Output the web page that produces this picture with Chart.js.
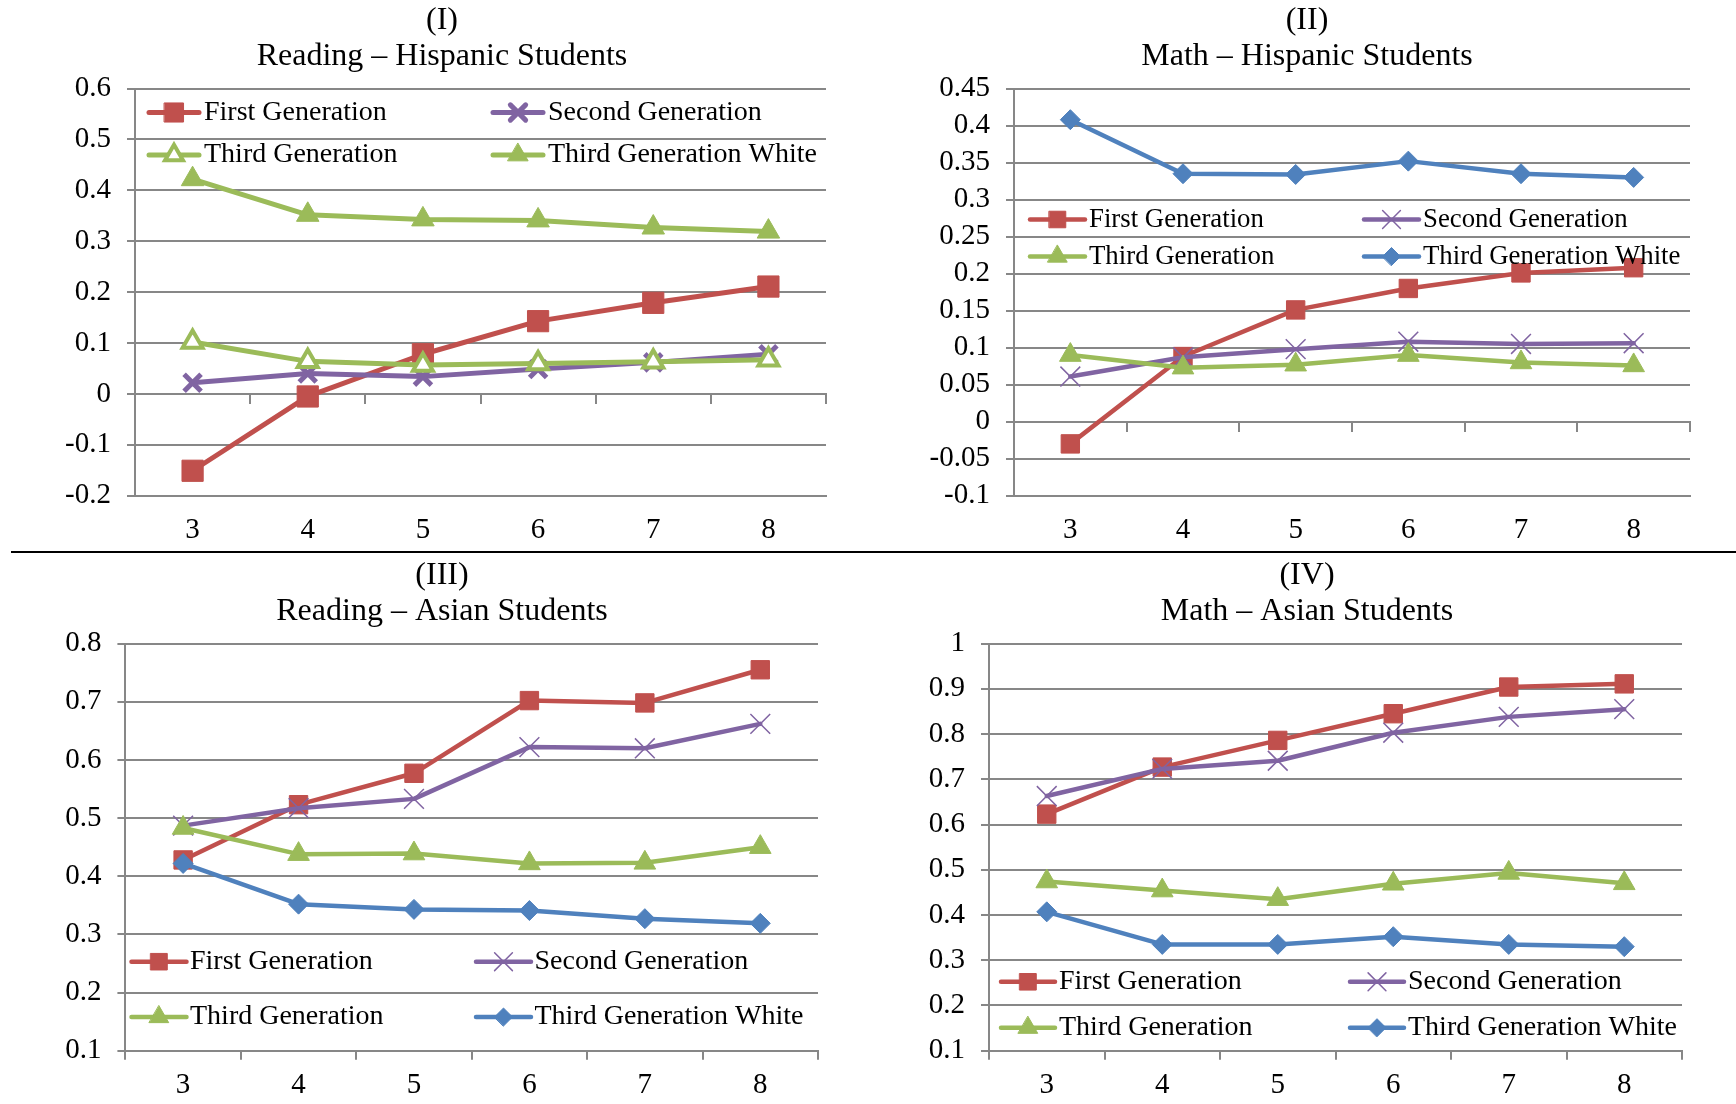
<!DOCTYPE html>
<html><head><meta charset="utf-8">
<script src="https://cdn.jsdelivr.net/npm/chart.js@4.4.1/dist/chart.umd.min.js"></script>
<style>
html,body{margin:0;padding:0;background:#fff;width:1736px;height:1104px;overflow:hidden;}
.panel{position:absolute;}
.panel canvas{display:block;}
#sep{position:absolute;left:11px;top:551px;width:1725px;height:2px;background:#000;}
</style></head><body>
<div class="panel" style="left:0;top:0;width:868px;height:552px"><canvas id="c1" width="868" height="552"></canvas></div>
<div class="panel" style="left:868px;top:0;width:868px;height:552px"><canvas id="c2" width="868" height="552"></canvas></div>
<div class="panel" style="left:0;top:552px;width:868px;height:552px"><canvas id="c3" width="868" height="552"></canvas></div>
<div class="panel" style="left:868px;top:552px;width:868px;height:552px"><canvas id="c4" width="868" height="552"></canvas></div>
<div id="sep"></div>
<script>
// ---------- DATA ----------
const grades = ['3', '4', '5', '6', '7', '8'];
const seriesNames = ['First Generation', 'Second Generation', 'Third Generation', 'Third Generation White'];

// (I) Reading – Hispanic Students
const readHispFirst  = [-0.151, -0.005, 0.078, 0.143, 0.179, 0.211];
const readHispSecond = [0.022, 0.040, 0.034, 0.049, 0.062, 0.078];
const readHispThird  = [0.102, 0.064, 0.057, 0.060, 0.063, 0.067];
const readHispWhite  = [0.422, 0.352, 0.343, 0.341, 0.327, 0.319];
const yTicksI  = [-0.2, -0.1, 0, 0.1, 0.2, 0.3, 0.4, 0.5, 0.6];
const yLabelsI = ['-0.2', '-0.1', '0', '0.1', '0.2', '0.3', '0.4', '0.5', '0.6'];

// (II) Math – Hispanic Students
const mathHispFirst  = [-0.030, 0.088, 0.151, 0.180, 0.201, 0.208];
const mathHispSecond = [0.061, 0.087, 0.098, 0.108, 0.105, 0.106];
const mathHispThird  = [0.090, 0.073, 0.077, 0.090, 0.080, 0.076];
const mathHispWhite  = [0.408, 0.335, 0.334, 0.352, 0.335, 0.330];
const yTicksII  = [-0.1, -0.05, 0, 0.05, 0.1, 0.15, 0.2, 0.25, 0.3, 0.35, 0.4, 0.45];
const yLabelsII = ['-0.1', '-0.05', '0', '0.05', '0.1', '0.15', '0.2', '0.25', '0.3', '0.35', '0.4', '0.45'];

// (III) Reading – Asian Students
const readAsianFirst  = [0.428, 0.523, 0.577, 0.702, 0.698, 0.755];
const readAsianSecond = [0.487, 0.517, 0.533, 0.622, 0.620, 0.662];
const readAsianThird  = [0.483, 0.438, 0.439, 0.422, 0.423, 0.450];
const readAsianWhite  = [0.422, 0.352, 0.343, 0.341, 0.327, 0.319];
const yTicksIII  = [0.1, 0.2, 0.3, 0.4, 0.5, 0.6, 0.7, 0.8];
const yLabelsIII = ['0.1', '0.2', '0.3', '0.4', '0.5', '0.6', '0.7', '0.8'];

// (IV) Math – Asian Students
const mathAsianFirst  = [0.623, 0.727, 0.786, 0.845, 0.904, 0.911];
const mathAsianSecond = [0.663, 0.723, 0.741, 0.803, 0.838, 0.855];
const mathAsianThird  = [0.474, 0.454, 0.435, 0.469, 0.493, 0.470];
const mathAsianWhite  = [0.407, 0.335, 0.335, 0.352, 0.335, 0.330];
const yTicksIV  = [0.1, 0.2, 0.3, 0.4, 0.5, 0.6, 0.7, 0.8, 0.9, 1];
const yLabelsIV = ['0.1', '0.2', '0.3', '0.4', '0.5', '0.6', '0.7', '0.8', '0.9', '1'];

// ---------- STYLES ----------
const FONT = '"Liberation Serif", "Times New Roman", serif';
const GRID = '#878787';
const RED = '#C0504D', PURPLE = '#8064A2', GREEN = '#9BBB59', BLUE = '#4F81BD';

const stylesI = [
  {color: RED,    point: 'rect',     r: 15, fill: RED,     bw: 1, lw: 5},
  {color: PURPLE, point: 'crossRot', r: 12, fill: PURPLE,  bw: 5, lw: 5},
  {color: GREEN,  point: 'triangle', r: 11.5, fill: '#FFFFFF', bw: 4, lw: 5},
  {color: GREEN,  point: 'triangle', r: 13, fill: GREEN,   bw: 1, lw: 5}
];
const stylesOther = [
  {color: RED,    point: 'rect',     r: 13,   fill: RED,    bw: 1,   lw: 4.5},
  {color: PURPLE, point: 'crossRot', r: 14,   fill: PURPLE, bw: 1.5, lw: 4.5},
  {color: GREEN,  point: 'triangle', r: 12.5, fill: GREEN,  bw: 1,   lw: 4.5},
  {color: BLUE,   point: 'rectRot',  r: 10,   fill: BLUE,   bw: 1,   lw: 4.5}
];

function drawMarker(ctx, style, x, y, r, fill, stroke, bw) {
  ctx.save();
  ctx.beginPath();
  if (style === 'rect') {
    const s = Math.SQRT1_2 * r;
    ctx.rect(x - s, y - s, 2 * s, 2 * s);
  } else if (style === 'rectRot') {
    ctx.moveTo(x - r, y); ctx.lineTo(x, y - r); ctx.lineTo(x + r, y); ctx.lineTo(x, y + r); ctx.closePath();
  } else if (style === 'triangle') {
    ctx.moveTo(x, y - r); ctx.lineTo(x + 0.866 * r, y + 0.5 * r); ctx.lineTo(x - 0.866 * r, y + 0.5 * r); ctx.closePath();
  } else if (style === 'crossRot') {
    const d = Math.SQRT1_2 * r;
    ctx.moveTo(x - d, y - d); ctx.lineTo(x + d, y + d);
    ctx.moveTo(x + d, y - d); ctx.lineTo(x - d, y + d);
  }
  if (style !== 'crossRot') { ctx.fillStyle = fill; ctx.fill(); }
  ctx.lineWidth = bw; ctx.strokeStyle = stroke; ctx.stroke();
  ctx.restore();
}

// Legend drawn inside the plot area, in two columns
const insideLegend = {
  id: 'insideLegend',
  afterDatasetsDraw(chart, args, opts) {
    const ctx = chart.ctx;
    ctx.save();
    chart.data.datasets.forEach((ds, i) => {
      const s = opts.styles[i];
      const x = opts.cols[i % 2];
      const y = opts.rows[Math.floor(i / 2)];
      ctx.beginPath();
      ctx.lineCap = 'round';
      ctx.strokeStyle = s.color;
      ctx.lineWidth = s.lw;
      ctx.moveTo(x, y); ctx.lineTo(x + opts.len, y);
      ctx.stroke();
      drawMarker(ctx, s.point, x + opts.len / 2, y, s.r * 0.9, s.fill, s.color, s.bw);
      ctx.fillStyle = '#000';
      ctx.font = opts.size + 'px ' + FONT;
      ctx.textBaseline = 'middle';
      ctx.textAlign = 'left';
      ctx.fillText(ds.label, x + opts.len + opts.gap, y);
    });
    ctx.restore();
  }
};

// Two-line panel title centred at a given x
const panelTitle = {
  id: 'panelTitle',
  afterDraw(chart, args, opts) {
    const ctx = chart.ctx;
    ctx.save();
    ctx.fillStyle = '#000';
    ctx.font = opts.size + 'px ' + FONT;
    ctx.textAlign = 'center';
    ctx.textBaseline = 'middle';
    opts.lines.forEach((t, i) => ctx.fillText(t, opts.x, opts.ys[i]));
    ctx.restore();
  }
};

function makePanel(id, p) {
  const datasets = p.series.map((vals, i) => {
    const s = p.styles[i];
    return {
      label: seriesNames[i], data: vals,
      borderColor: s.color, backgroundColor: s.color, borderWidth: s.lw,
      pointStyle: s.point, pointRadius: s.r, pointHoverRadius: s.r,
      pointBackgroundColor: s.fill, pointBorderColor: s.color, pointBorderWidth: s.bw,
      tension: 0, fill: false, order: 3 - i, clip: false,
      borderCapStyle: 'round', borderJoinStyle: 'round'
    };
  });
  const tickFont = {family: FONT, size: 29};
  const scales = {
    x: {
      type: 'category', position: 'bottom', offset: true,
      grid: {display: true, drawOnChartArea: false, drawTicks: true, tickLength: 9, offset: true,
             color: p.bottomTicks ? GRID : 'rgba(0,0,0,0)', lineWidth: 2},
      border: {display: true, color: GRID, width: 2},
      ticks: {color: '#000', font: tickFont, padding: 8, maxRotation: 0, autoSkip: false},
      afterFit: s => { s.height = p.xAxisHeight; }
    },
    y: {
      type: 'linear', position: 'left',
      min: p.yTicks[0], max: p.yTicks[p.yTicks.length - 1],
      afterBuildTicks: s => { s.ticks = p.yTicks.map(v => ({value: v})); },
      grid: {color: GRID, lineWidth: 2, drawTicks: true, tickLength: 8},
      border: {display: true, color: GRID, width: 2},
      ticks: {color: '#000', font: tickFont, padding: 16, autoSkip: false, callback: (v, i) => p.yLabels[i]},
      afterFit: s => { s.width = p.yAxisWidth; }
    }
  };
  if (p.zeroAxis) {
    scales.x2 = {
      type: 'category', axis: 'x', position: {y: 0}, offset: true,
      grid: {display: true, drawOnChartArea: false, drawTicks: true, tickLength: 9, offset: true, color: GRID, lineWidth: 2},
      border: {display: true, color: GRID, width: 2},
      ticks: {display: false}
    };
  }
  return new Chart(document.getElementById(id), {
    type: 'line',
    data: {labels: grades, datasets},
    options: {
      responsive: false, animation: false, events: [],
      layout: {padding: {left: p.padL, right: p.padR, top: p.padT, bottom: 0}},
      scales,
      plugins: {
        legend: {display: false},
        tooltip: {enabled: false},
        title: {display: false},
        panelTitle: p.title,
        insideLegend: p.legend
      }
    },
    plugins: [panelTitle, insideLegend]
  });
}

function build() {
  makePanel('c1', {
    title: {lines: ['(I)', 'Reading – Hispanic Students'], x: 442, ys: [20.5, 56.3], size: 32},
    series: [readHispFirst, readHispSecond, readHispThird, readHispWhite],
    styles: stylesI, yTicks: yTicksI, yLabels: yLabelsI,
    padL: 35, padR: 42, padT: 88.6, yAxisWidth: 100, xAxisHeight: 56.3,
    zeroAxis: true, bottomTicks: false,
    legend: {styles: stylesI, cols: [149, 493], rows: [112.5, 155], len: 50, gap: 5, size: 28}
  });
  makePanel('c2', {
    title: {lines: ['(II)', 'Math – Hispanic Students'], x: 439, ys: [20.5, 56.3], size: 32},
    series: [mathHispFirst, mathHispSecond, mathHispThird, mathHispWhite],
    styles: stylesOther, yTicks: yTicksII, yLabels: yLabelsII,
    padL: 46, padR: 46, padT: 88.6, yAxisWidth: 100, xAxisHeight: 56.3,
    zeroAxis: true, bottomTicks: false,
    legend: {styles: stylesOther, cols: [162, 496], rows: [219.5, 256.5], len: 55, gap: 4, size: 26.8}
  });
  makePanel('c3', {
    title: {lines: ['(III)', 'Reading – Asian Students'], x: 442, ys: [23.5, 59.3], size: 32},
    series: [readAsianFirst, readAsianSecond, readAsianThird, readAsianWhite],
    styles: stylesOther, yTicks: yTicksIII, yLabels: yLabelsIII,
    padL: 25.4, padR: 50, padT: 91.6, yAxisWidth: 100, xAxisHeight: 53.3,
    zeroAxis: false, bottomTicks: true,
    legend: {styles: stylesOther, cols: [131.5, 476], rows: [409.7, 465], len: 55, gap: 3.5, size: 28}
  });
  makePanel('c4', {
    title: {lines: ['(IV)', 'Math – Asian Students'], x: 439, ys: [23.5, 59.3], size: 32},
    series: [mathAsianFirst, mathAsianSecond, mathAsianThird, mathAsianWhite],
    styles: stylesOther, yTicks: yTicksIV, yLabels: yLabelsIV,
    padL: 21, padR: 54, padT: 91.6, yAxisWidth: 100, xAxisHeight: 53.3,
    zeroAxis: false, bottomTicks: true,
    legend: {styles: stylesOther, cols: [133, 482], rows: [429.8, 475.7], len: 54, gap: 4, size: 28}
  });
}

if (document.fonts && document.fonts.load) {
  Promise.all([document.fonts.load('28px "Liberation Serif"'), document.fonts.load('32px "Liberation Serif"')])
    .then(build, build);
} else { build(); }
</script>
</body></html>
